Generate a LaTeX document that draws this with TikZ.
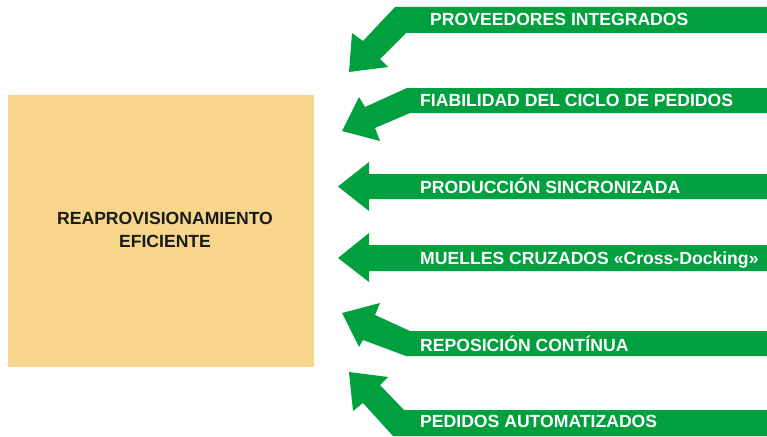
\documentclass[tikz,border=0pt]{standalone}
\usepackage{fontspec}
\setmainfont{Liberation Sans}
\definecolor{arrgreen}{HTML}{00A03F}
\definecolor{boxtan}{HTML}{F7D68B}
\definecolor{boxtext}{HTML}{1A1A1A}
\tikzset{
  arr/.style={fill=arrgreen, draw=none},
  lab/.style={anchor=base west, inner sep=0pt, text=white, font=\fontsize{17.6}{20}\selectfont\bfseries},
  boxlab/.style={anchor=base, inner sep=0pt, text=boxtext, font=\fontsize{17.6}{20}\selectfont\bfseries}
}
\begin{document}
\begin{tikzpicture}[x=1pt,y=-1pt]
\useasboundingbox (0,0) rectangle (767,436);
% box
\fill[boxtan] (8,95) rectangle (314,367);
\node[boxlab] (b1) at (165,224) {REAPROVISIONAMIENTO};
\node[boxlab] (b2) at (165,247) {EFICIENTE};
% arrows
\fill[arr] (395,7) -- (767,7) -- (767,33) -- (406,33) -- (380,59) -- (388,67) -- (349,72) -- (352,33) -- (363,41) -- cycle;
\fill[arr] (407,88) -- (767,88) -- (767,113) -- (410,113) -- (375,128) -- (380,141) -- (342,131) -- (359,97) -- (365,107) -- cycle;
\fill[arr] (767,174) -- (369,174) -- (369,162) -- (338,186.5) -- (369,211) -- (369,199) -- (767,199) -- cycle;
\fill[arr] (767,245) -- (369,245) -- (369,233) -- (338,258) -- (369,282) -- (369,271) -- (767,271) -- cycle;
\fill[arr] (410,331) -- (767,331) -- (767,356) -- (406,356) -- (363,340) -- (359,347) -- (342,313) -- (380,303) -- (375,315) -- cycle;
\fill[arr] (404,410) -- (767,410) -- (767,436) -- (393,436) -- (363,403) -- (353,411) -- (349,372) -- (388,377) -- (380,385) -- cycle;
% labels
\node[lab] (t1) at (430,26) {PROVEEDORES INTEGRADOS};
\node[lab] (t2) at (420,106) {FIABILIDAD DEL CICLO DE PEDIDOS};
\node[lab] (t3) at (420,193.3) {PRODUCCIÓN SINCRONIZADA};
\node[lab] (t4) at (420,264.3) {MUELLES CRUZADOS «Cross-Docking»};
\node[lab] (t5) at (420,351) {REPOSICIÓN CONTÍNUA};
\node[lab] (t6) at (420,427.7) {PEDIDOS AUTOMATIZADOS};
\end{tikzpicture}
\end{document}
